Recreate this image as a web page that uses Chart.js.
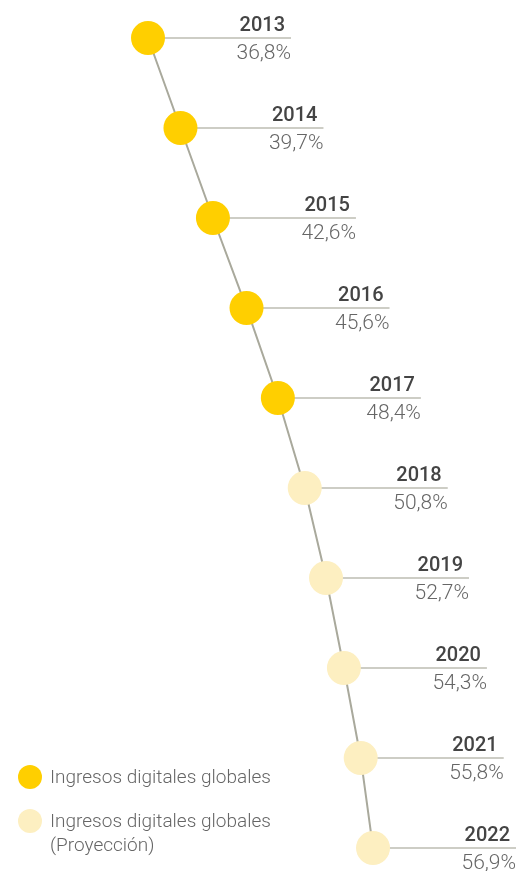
<!DOCTYPE html>
<html>
<head>
<meta charset="utf-8">
<script src="https://cdn.jsdelivr.net/npm/chart.js@4/dist/chart.umd.min.js"></script>
<style>
  html, body { margin: 0; padding: 0; background: #fff; }
  #wrap { position: relative; width: 518px; height: 871px; }
  .legend { position: absolute; left: 18px; font-family: Roboto, sans-serif; font-weight: 300; font-size: 19px; color: #666; line-height: 24px; }
  .legend .dot { position: absolute; left: 0; top: 0; width: 24px; height: 24px; border-radius: 50%; }
  .legend .txt { margin-left: 32px; }
</style>
</head>
<body>
<div id="wrap">
  <canvas id="graph" width="518" height="871"></canvas>
  <div class="legend" style="top:765px"><span class="dot" style="background:#FFCF00"></span><div class="txt">Ingresos digitales globales</div></div>
  <div class="legend" style="top:809px"><span class="dot" style="background:#FDEFC1"></span><div class="txt">Ingresos digitales globales<br>(Proyección)</div></div>
</div>
<script>
const years = [2013, 2014, 2015, 2016, 2017, 2018, 2019, 2020, 2021, 2022]
const values = [36.8, 39.7, 42.6, 45.6, 48.4, 50.8, 52.7, 54.3, 55.8, 56.9]
const projected = [false, false, false, false, false, true, true, true, true, true]

const solid = '#FFCF00'
const light = '#FDEFC1'

// horizontal rule + year / value labels next to each point
const labelPlugin = {
    id: 'labels',
    beforeDatasetsDraw(chart) {
        const ctx = chart.ctx
        const xs = chart.scales.x
        const ys = chart.scales.y
        ctx.save()
        years.forEach((yr, i) => {
            const px = xs.getPixelForValue(values[i])
            const py = ys.getPixelForValue(yr)
            const end = px + 143
            ctx.strokeStyle = '#BCBCB2'
            ctx.lineWidth = 1.5
            ctx.beginPath()
            ctx.moveTo(px, py)
            ctx.lineTo(end, py)
            ctx.stroke()
            ctx.textAlign = 'right'
            ctx.fillStyle = '#444'
            ctx.font = '500 20px Roboto'
            ctx.fillText(String(yr), end - 6, py - 7)
            ctx.fillStyle = '#666'
            ctx.font = '300 21px Roboto'
            ctx.fillText(values[i].toFixed(1).replace('.', ',') + '%', end, py + 21)
        })
        ctx.restore()
    }
}

const graph = document.getElementById('graph')

const myChart = new Chart(graph, {
    type: 'line',
    data: {
        datasets: [{
            data: years.map((y, i) => ({ x: values[i], y: y })),
            borderColor: '#A9A99C',
            borderWidth: 2,
            pointRadius: 17,
            pointHoverRadius: 17,
            pointBorderWidth: 0,
            pointBackgroundColor: projected.map(p => p ? light : solid),
            tension: 0,
            clip: false
        }]
    },
    options: {
        responsive: false,
        animation: false,
        layout: { padding: 0, autoPadding: false },
        plugins: { legend: { display: false }, tooltip: { enabled: false } },
        scales: {
            x: { type: 'linear', display: false, min: 23.58, max: 69.85 },
            y: { type: 'linear', display: false, reverse: true, min: 2012.578, max: 2022.256 }
        }
    },
    plugins: [labelPlugin]
})
</script>
</body>
</html>
